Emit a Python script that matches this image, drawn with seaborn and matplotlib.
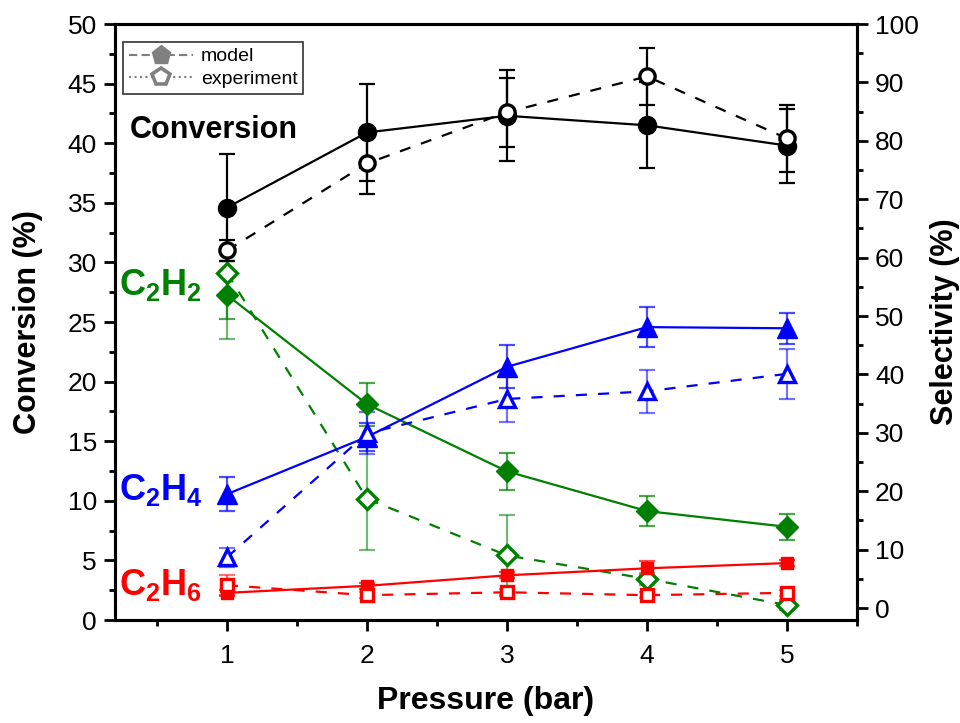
import matplotlib
matplotlib.use("Agg")
import matplotlib.pyplot as plt
from matplotlib.lines import Line2D
from matplotlib.ticker import MultipleLocator
import seaborn as sns
import pandas as pd

pressure = [1, 2, 3, 4, 5]

conv_model = [34.6, 40.9, 42.3, 41.5, 39.8]
conv_model_err = [4.5, 4.1, 3.8, 3.6, 3.1]
conv_exp = [31.0, 38.3, 42.6, 45.6, 40.4]
conv_exp_err = [0.9, 2.6, 2.9, 2.4, 2.8]

c2h2_model = [53.6, 34.9, 23.4, 16.6, 13.9]
c2h2_model_err = [4.1, 3.7, 3.2, 2.5, 2.2]
c2h2_exp = [57.4, 18.7, 9.0, 5.0, 0.5]
c2h2_exp_err = [11.4, 8.8, 7.0, 1.0, 0.8]

c2h4_model = [19.5, 29.3, 41.3, 48.1, 47.9]
c2h4_model_err = [2.9, 2.4, 3.7, 3.4, 2.7]
c2h4_exp = [8.7, 29.9, 35.8, 37.1, 40.1]
c2h4_exp_err = [1.6, 3.6, 3.9, 3.7, 4.3]

c2h6_model = [2.6, 3.8, 5.6, 6.8, 7.7]
c2h6_model_err = [0.5, 0.5, 0.5, 1.2, 0.5]
c2h6_exp = [3.9, 2.2, 2.7, 2.2, 2.6]
c2h6_exp_err = [1.7, 0.5, 0.5, 0.5, 0.5]

sns.set_theme(style="ticks")
plt.rcParams["font.family"] = ["Liberation Sans", "DejaVu Sans"]
plt.rcParams["mathtext.fontset"] = "custom"
plt.rcParams["mathtext.rm"] = "Liberation Sans"
plt.rcParams["mathtext.bf"] = "Liberation Sans:bold"
for k in ["text.color", "axes.labelcolor", "xtick.color", "ytick.color", "axes.edgecolor"]:
    plt.rcParams[k] = "black"

fig = plt.figure(figsize=(9.6, 7.23), dpi=100)
ax = fig.add_axes([115 / 960, 103 / 723, 742 / 960, 596 / 723])
ax2 = ax.twinx()

def series(axis, y, err, color, filled, marker, ms, ls, ecalpha=1.0):
    df = pd.DataFrame({"p": pressure, "v": y})
    axis.errorbar(pressure, y, yerr=err, fmt="none", ecolor=color, elinewidth=1.6,
                  capsize=6, capthick=1.6, alpha=ecalpha, zorder=2)
    sns.lineplot(data=df, x="p", y="v", ax=axis, color=color, linestyle=ls,
                 linewidth=1.6, marker=marker, markersize=ms,
                 markerfacecolor=color if filled else "white",
                 markeredgecolor=color, markeredgewidth=2.4 if not filled else 1,
                 zorder=3, legend=False)

# Selectivity (right axis)
series(ax2, c2h2_model, c2h2_model_err, "green", True, "D", 11, "-", 0.7)
series(ax2, c2h2_exp, c2h2_exp_err, "green", False, "D", 10, (0, (5, 5)), 0.55)
series(ax2, c2h4_model, c2h4_model_err, "blue", True, "^", 14, "-", 0.7)
series(ax2, c2h4_exp, c2h4_exp_err, "blue", False, "^", 12, (0, (5, 5)), 0.55)
series(ax2, c2h6_model, c2h6_model_err, "red", True, "s", 8.5, "-", 0.7)
series(ax2, c2h6_exp, c2h6_exp_err, "red", False, "s", 8, (0, (5, 5)), 0.55)

# Conversion (left axis)
series(ax, conv_model, conv_model_err, "black", True, "o", 13, "-")
series(ax, conv_exp, conv_exp_err, "black", False, "o", 11, (0, (5, 5)))
ax.set_zorder(ax2.get_zorder() + 1)
ax.patch.set_visible(False)

ax.set_xlim(0.2, 5.5)
ax.set_ylim(0, 50)
ax2.set_ylim(-2.05, 100)
ax.xaxis.set_major_locator(MultipleLocator(1))
ax.xaxis.set_minor_locator(MultipleLocator(0.5))
ax.yaxis.set_major_locator(MultipleLocator(5))
ax.yaxis.set_minor_locator(MultipleLocator(2.5))
ax2.yaxis.set_major_locator(MultipleLocator(10))
ax2.yaxis.set_minor_locator(MultipleLocator(5))

for a in (ax, ax2):
    a.tick_params(which="major", length=8, width=2, labelsize=19, direction="out",
                  color="black", labelcolor="black", pad=5)
    a.tick_params(which="minor", length=4, width=2, direction="out", color="black")
    for s in a.spines.values():
        s.set_linewidth(2.2)
        s.set_color("black")
ax.tick_params(axis="x", which="major", pad=9)
ax.tick_params(axis="y", right=False)
ax2.tick_params(axis="y", left=False)

ax.set_xlabel("Pressure (bar)", fontsize=23, fontweight="bold", labelpad=13, color="black")
ax.set_ylabel("Conversion (%)", fontsize=22, fontweight="bold", labelpad=18, color="black")
ax2.set_ylabel("Selectivity (%)", fontsize=22, fontweight="bold", labelpad=8, color="black")

ax.text(0.02, 0.822, "Conversion", transform=ax.transAxes, fontsize=22,
        fontweight="bold", color="black", va="center", ha="left")
ax.text(0.006, 0.562, r"$\mathbf{C_2H_2}$", transform=ax.transAxes, fontsize=26,
        color="green", va="center", ha="left")
ax.text(0.006, 0.218, r"$\mathbf{C_2H_4}$", transform=ax.transAxes, fontsize=26,
        color="blue", va="center", ha="left")
ax.text(0.006, 0.058, r"$\mathbf{C_2H_6}$", transform=ax.transAxes, fontsize=26,
        color="red", va="center", ha="left")

handles = [
    Line2D([], [], color="gray", linestyle=(0, (4, 2)), marker="p", markersize=14,
           markerfacecolor="gray", markeredgecolor="gray", linewidth=1.5),
    Line2D([], [], color="gray", linestyle=":", marker="p", markersize=13,
           markerfacecolor="white", markeredgecolor="gray", markeredgewidth=2.6, linewidth=1.5),
]
leg = ax.legend(handles, ["model", "experiment"], loc="upper left",
                bbox_to_anchor=(0.0108, 0.97), borderaxespad=0, fontsize=14,
                frameon=True, fancybox=False, edgecolor="black", handlelength=3.3,
                handletextpad=0.4, borderpad=0.3, labelspacing=0.25)
leg.get_frame().set_linewidth(1.2)

fig.savefig("out.png", dpi=100)
